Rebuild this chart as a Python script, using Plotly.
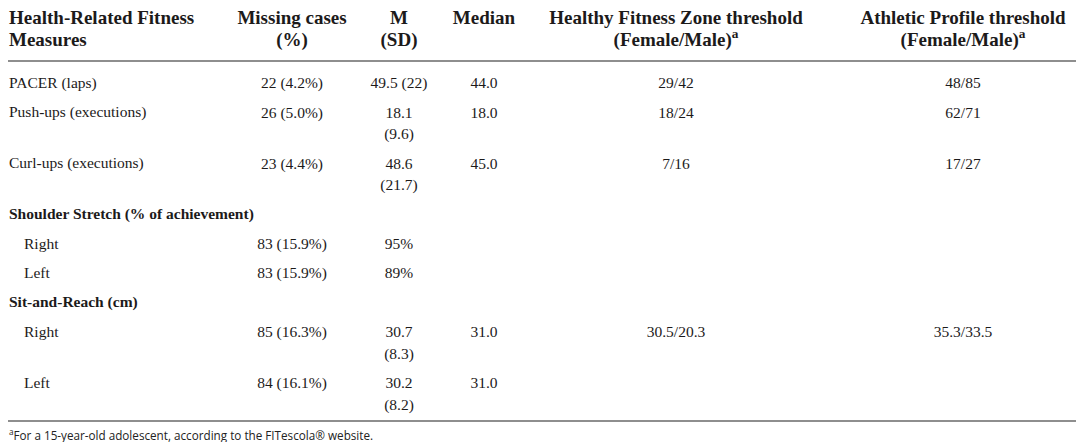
import plotly.graph_objects as go

# table content
header_cols = ["Health-Related Fitness\nMeasures", "Missing cases\n(%)", "M\n(SD)", "Median",
               "Healthy Fitness Zone threshold\n(Female/Male)<sup>a</sup>",
               "Athletic Profile threshold\n(Female/Male)<sup>a</sup>"]
measures = ["PACER (laps)", "Push-ups (executions)", "Curl-ups (executions)",
            "Shoulder Stretch (% of achievement)", "Right", "Left",
            "Sit-and-Reach (cm)", "Right", "Left"]
row_kind = ["item", "item", "item", "group", "sub", "sub", "group", "sub", "sub"]
missing = ["22 (4.2%)", "26 (5.0%)", "23 (4.4%)", "", "83 (15.9%)", "83 (15.9%)", "",
           "85 (16.3%)", "84 (16.1%)"]
m_sd = ["49.5 (22)", "18.1\n(9.6)", "48.6\n(21.7)", "", "95%", "89%", "", "30.7\n(8.3)", "30.2\n(8.2)"]
median = ["44.0", "18.0", "45.0", "", "", "", "", "31.0", "31.0"]
hfz = ["29/42", "18/24", "7/16", "", "", "", "", "30.5/20.3", ""]
athletic = ["48/85", "62/71", "17/27", "", "", "", "", "35.3/33.5", ""]
footnote = "<sup>a</sup>For a 15-year-old adolescent, according to the FITescola® website."

W, H = 1084, 442
col_x = [0, 284, 391, 476, 668, 955]
indent = 15
first_row_y = 76.5
row_h = 29.4
line_h = 21.5
header_y = [11, 33]
serif = "Liberation Serif"
ink = "#1c1a1a"

columns = [missing, m_sd, median, hfz, athletic]

# row positions from the number of text lines per row
row_y = []
y = first_row_y
for i in range(len(measures)):
    row_y.append(y)
    n_lines = max(len(c[i].split("\n")) for c in columns)
    y += row_h + (n_lines - 1) * line_h

fig = go.Figure()

def add_text(xs, ys, texts, size, color=ink, family=serif):
    fig.add_trace(go.Scatter(
        x=xs, y=ys, text=texts, mode="text", textposition="middle center",
        textfont=dict(family=family, size=size, color=color),
        hoverinfo="skip", showlegend=False, cliponaxis=False))

# annotations sit a touch lower than scatter text, so nudge them up to share a baseline
def add_left(x, y, text, size, color=ink, family=serif, nudge=2):
    fig.add_annotation(x=x, y=y, xref="x", yref="y", text=text, showarrow=False,
                       xanchor="left", yanchor="middle", borderpad=0, yshift=nudge,
                       font=dict(family=family, size=size, color=color))

# header
hx, hy, ht = [], [], []
for j, h in enumerate(header_cols):
    for k, line in enumerate(h.split("\n")):
        txt = "<b>" + line + "</b>"
        if j == 0:
            add_left(col_x[0], header_y[k], txt, 19)
        else:
            hx.append(col_x[j]); hy.append(header_y[k]); ht.append(txt)
add_text(hx, hy, ht, 19)

# first column
for i, name in enumerate(measures):
    if row_kind[i] == "group":
        add_left(col_x[0], row_y[i], "<b>" + name + "</b>", 15.5)
    else:
        add_left(col_x[0] + (indent if row_kind[i] == "sub" else 0), row_y[i], name, 15.5)

# value columns
cx, cy, ct = [], [], []
for j, col in enumerate(columns):
    for i, v in enumerate(col):
        for k, line in enumerate(v.split("\n")):
            if line:
                cx.append(col_x[j + 1]); cy.append(row_y[i] + k * line_h); ct.append(line)
add_text(cx, cy, ct, 15.5)

# footnote
add_left(0, 426, footnote, 11.7, color="#222222", family="Open Sans", nudge=0)

# rules
rule_color = "#8e8e8e"
fig.add_shape(type="line", x0=0, x1=W, y0=53, y1=53, line=dict(color=rule_color, width=2))
fig.add_shape(type="line", x0=0, x1=W, y0=413, y1=413, line=dict(color=rule_color, width=2))

fig.update_xaxes(range=[0, W], visible=False, fixedrange=True)
fig.update_yaxes(range=[H, 0], visible=False, fixedrange=True)
fig.update_layout(width=W, height=H, margin=dict(l=0, r=0, t=0, b=0),
                  plot_bgcolor="white", paper_bgcolor="white")

fig.write_html("out.html")
